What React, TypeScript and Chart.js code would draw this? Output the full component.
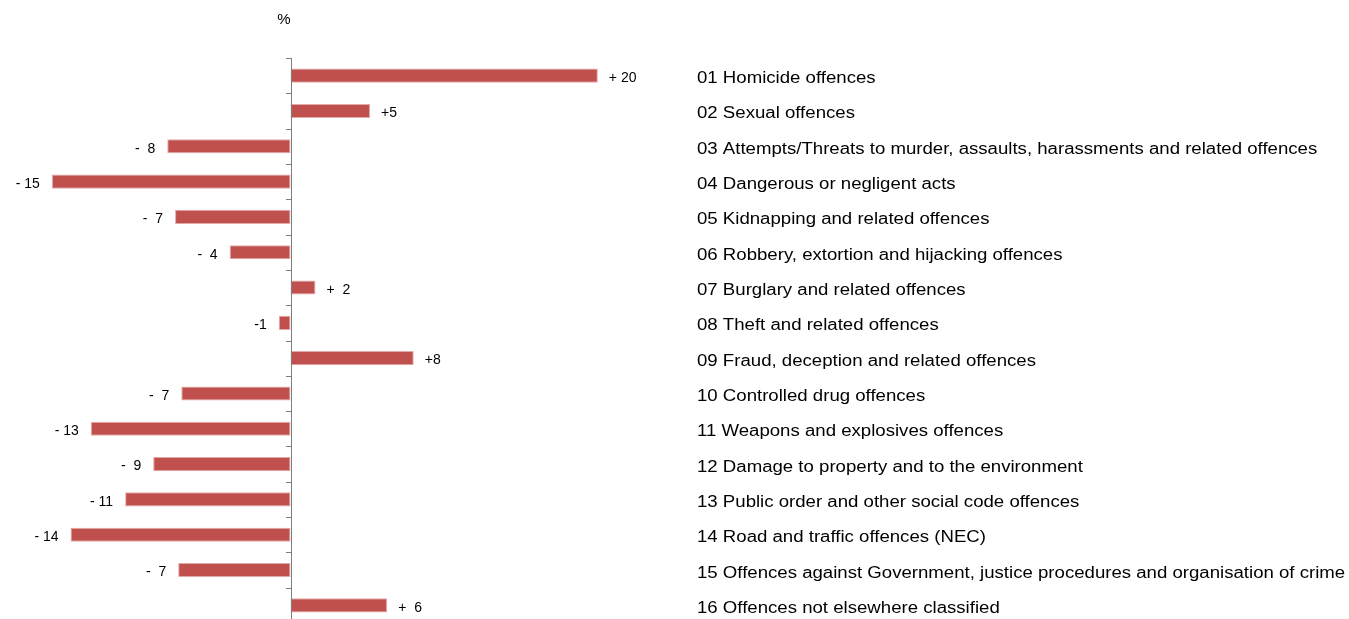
import React, { useEffect, useRef } from "react";
import { Chart, registerables } from "chart.js";

Chart.register(...registerables);

const categories: string[] = [
  "01 Homicide offences",
  "02 Sexual offences",
  "03 Attempts/Threats to murder, assaults, harassments and related offences",
  "04 Dangerous or negligent acts",
  "05 Kidnapping and related offences",
  "06 Robbery, extortion and hijacking offences",
  "07 Burglary and related offences",
  "08 Theft and related offences",
  "09 Fraud, deception and related offences",
  "10 Controlled drug offences",
  "11 Weapons and explosives offences",
  "12 Damage to property and to the environment",
  "13 Public order and other social code offences",
  "14 Road and traffic offences (NEC)",
  "15 Offences against Government, justice procedures and organisation of crime",
  "16 Offences not elsewhere classified",
];

const changeValues: number[] = [
  19.7, 5.1, -7.9, -15.3, -7.4, -3.9, 1.6, -0.75, 7.9, -7.0, -12.8, -8.8, -10.6, -14.1, -7.2, 6.2,
];

const valueLabels: string[] = [
  "+ 20", "+5", "-  8", "- 15", "-  7", "-  4", "+  2", "-1",
  "+8", "-  7", "- 13", "-  9", "- 11", "- 14", "-  7", "+  6",
];

const unitLabel = "%";

const FONT = '"Liberation Sans", Arial, sans-serif';
const BAR_COLOR = "#C0504D";
const AXIS_COLOR = "#7f7f7f";

function stretchedText(
  ctx: CanvasRenderingContext2D,
  text: string,
  x: number,
  y: number,
  sx: number,
  align: CanvasTextAlign
) {
  ctx.save();
  ctx.translate(x, y);
  ctx.scale(sx, 1);
  ctx.textAlign = align;
  ctx.textBaseline = "alphabetic";
  ctx.fillText(text, 0, 0);
  ctx.restore();
}

const decorPlugin = {
  id: "decor",
  afterDatasetsDraw(chart: any) {
    const { ctx, chartArea, scales } = chart;
    const xs = scales.x;
    const ys = scales.y;
    const x0 = xs.getPixelForValue(0);
    const n = categories.length;
    const band = (chartArea.bottom - chartArea.top) / n;

    ctx.save();
    // zero axis line
    ctx.strokeStyle = AXIS_COLOR;
    ctx.lineWidth = 1;
    ctx.beginPath();
    ctx.moveTo(Math.round(x0) + 0.5, chartArea.top);
    ctx.lineTo(Math.round(x0) + 0.5, chart.height);
    ctx.stroke();
    // tick marks at category boundaries
    for (let i = 0; i <= n; i++) {
      const y = Math.round(ys.getPixelForValue(i) - band / 2) + 0.5;
      ctx.beginPath();
      ctx.moveTo(Math.round(x0) - 5, y);
      ctx.lineTo(Math.round(x0) + 0.5, y);
      ctx.stroke();
    }

    // value labels
    ctx.fillStyle = "#000";
    ctx.font = `14px ${FONT}`;
    changeValues.forEach((v, i) => {
      const yc = ys.getPixelForValue(i);
      const xe = xs.getPixelForValue(v);
      if (v >= 0) {
        stretchedText(ctx, valueLabels[i], xe + 11, yc + 6.3, 1.0, "left");
      } else {
        stretchedText(ctx, valueLabels[i], xe - 12, yc + 6.3, 1.0, "right");
      }
    });

    // category labels
    ctx.font = `16px ${FONT}`;
    categories.forEach((c, i) => {
      const yc = ys.getPixelForValue(i);
      stretchedText(ctx, c, chartArea.right + 63.3, yc + 7.5, 1.163, "left");
    });

    // unit label
    ctx.font = `15px ${FONT}`;
    stretchedText(ctx, unitLabel, x0 - 6.5, 24, 1.0, "center");
    ctx.restore();
  },
};

export default function App() {
  const ref = useRef<HTMLCanvasElement | null>(null);

  useEffect(() => {
    if (!ref.current) return;
    const chart = new Chart(ref.current, {
      type: "bar",
      data: {
        labels: categories,
        datasets: [
          {
            data: changeValues,
            backgroundColor: BAR_COLOR,
            borderColor: "#e3a9a7",
            borderWidth: 1,
            borderSkipped: false,
            categoryPercentage: 1,
            barPercentage: 0.4,
          },
        ],
      },
      options: {
        indexAxis: "y",
        responsive: false,
        animation: false,
        layout: {
          padding: { left: 9.7, right: 715.3, top: 58, bottom: 1 },
        },
        scales: {
          x: {
            display: false,
            min: -18,
            max: 22,
          },
          y: {
            display: false,
            offset: true,
          },
        },
        plugins: {
          legend: { display: false },
          tooltip: { enabled: false },
          title: { display: false },
        },
      },
      plugins: [decorPlugin],
    });
    return () => chart.destroy();
  }, []);

  return (
    <div
      style={{
        position: "fixed",
        left: 0,
        top: 0,
        width: 1349,
        height: 619,
        overflow: "hidden",
        background: "#fff",
      }}
    >
      <canvas ref={ref} width={1349} height={624} style={{ display: "block" }} />
    </div>
  );
}
